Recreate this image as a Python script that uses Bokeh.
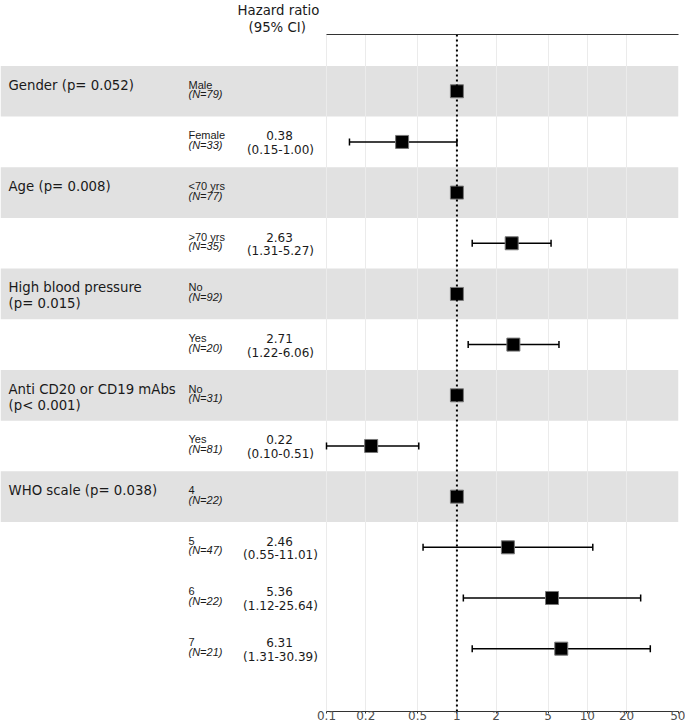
import numpy as np
from bokeh.plotting import figure
from bokeh.models import (ColumnDataSource, Range1d, FixedTicker, LogAxis, Span,
                          Whisker, TeeHead, LabelSet, Title, CustomJSTickFormatter)
from bokeh.core.properties import value
from bokeh.embed import file_html
from bokeh.resources import INLINE

# ---------------- data ----------------
group_labels = ["Gender (p= 0.052)", "Age (p= 0.008)", "High blood pressure\n(p= 0.015)",
                "Anti CD20 or CD19 mAbs\n(p< 0.001)", "WHO scale (p= 0.038)"]
group_sizes = [2, 2, 2, 2, 4]
levels = ["Male", "Female", "<70 yrs", ">70 yrs", "No", "Yes", "No", "Yes", "4", "5", "6", "7"]
n_obs = [79, 33, 77, 35, 92, 20, 31, 81, 22, 47, 22, 21]
hazard = [1, 0.38, 1, 2.63, 1, 2.71, 1, 0.22, 1, 2.46, 5.36, 6.31]
ci_low = [None, 0.15, None, 1.31, None, 1.22, None, 0.10, None, 0.55, 1.12, 1.31]
ci_high = [None, 1.00, None, 5.27, None, 6.06, None, 0.51, None, 11.01, 25.64, 30.39]
x_ticks = [0.1, 0.2, 0.5, 1, 2, 5, 10, 20, 50]
header_lines = ["Hazard ratio", "(95% CI)"]

# ---------------- layout ----------------
W, H = 685, 724
B_TOP, B_BOT, B_RIGHT = 33, 13, 7
FRAME_W = W - B_RIGHT
FRAME_H = H - B_TOP - B_BOT
X0_PX = 326                     # screen x of the first tick inside the frame
decade_px = (FRAME_W - X0_PX) / np.log10(x_ticks[-1] / x_ticks[0])
x_start = x_ticks[0] * 10 ** (-X0_PX / decade_px)
x_end = x_ticks[-1]
Y_TOP, Y_BOT = -1.12, 12.24
ppu = FRAME_H / (Y_BOT - Y_TOP)

SANS = "DejaVu Sans"
TXT = "#1a1a1a"

p = figure(width=W, height=H, x_axis_type="log", y_axis_location=None, title=None,
           x_range=Range1d(x_start, x_end), y_range=Range1d(Y_BOT, Y_TOP),
           output_backend="svg", toolbar_location=None,
           min_border_left=0, min_border_right=B_RIGHT,
           min_border_top=B_TOP, min_border_bottom=B_BOT)
p.outline_line_color = None
p.background_fill_color = "white"
p.border_fill_color = "white"
p.ygrid.visible = False

rows = list(range(len(levels)))
group_start = [int(v) for v in np.cumsum([0] + group_sizes[:-1])]

# shaded bands (first row of every group)
band_src = ColumnDataSource(dict(y=group_start))
p.hbar(y="y", left=x_start, right=x_end, height=1, source=band_src,
       fill_color="#e1e1e1", line_color=None, level="image")

# grid
p.xgrid.ticker = FixedTicker(ticks=x_ticks)
p.xgrid.grid_line_color = "#ebebeb"
p.xgrid.grid_line_width = 1

# bottom axis
ax = p.xaxis[0]
ax.ticker = FixedTicker(ticks=x_ticks)
ax.bounds = (x_ticks[0], x_ticks[-1])
ax.formatter = CustomJSTickFormatter(code="return String(tick);")
ax.minor_tick_line_color = None
ax.major_tick_in = 0
ax.major_tick_out = 2
ax.major_label_standoff = -3
ax.major_tick_line_color = "#333333"
ax.axis_line_color = "#333333"
ax.axis_line_width = 1.2
ax.major_label_text_font = SANS
ax.major_label_text_font_size = "12px"
ax.major_label_text_color = "#4d4d4d"

# top rule
top = LogAxis(ticker=FixedTicker(ticks=[]), bounds=(x_ticks[0], x_ticks[-1]),
              major_tick_line_color=None, minor_tick_line_color=None,
              major_label_text_font_size="0px", axis_line_color="#333333",
              axis_line_width=1.2)
p.add_layout(top, "above")

# header (column title of the HR column)
for line, off_x in zip(header_lines[::-1], [248, 237]):
    p.add_layout(Title(text=line, align="left", offset=off_x, standoff=0,
                       text_font=SANS, text_font_size="13.3px", text_font_style="normal",
                       text_color=TXT), "above")

# reference line at HR = 1
p.add_layout(Span(location=1, dimension="height", line_color="black",
                  line_dash="2 3", line_width=2))

# confidence intervals
ci_rows = [r for r in rows if ci_low[r] is not None]
ci_src = ColumnDataSource(dict(y=ci_rows, lo=[ci_low[r] for r in ci_rows],
                               hi=[ci_high[r] for r in ci_rows]))
p.add_layout(Whisker(source=ci_src, base="y", lower="lo", upper="hi", dimension="width",
                     line_color="black", line_width=1.5,
                     lower_head=TeeHead(size=7, line_color="black", line_width=1.5),
                     upper_head=TeeHead(size=7, line_color="black", line_width=1.5)))

# point estimates
pt_src = ColumnDataSource(dict(y=rows, hr=hazard))
p.scatter(x="hr", y="y", source=pt_src, marker="square", size=13,
          fill_color="black", line_color="#777777", line_width=1)

# ---------------- table text ----------------
def off(px):
    return px / ppu

g_x, g_y, g_t = [], [], []
for lab, r0 in zip(group_labels, group_start):
    for j, line in enumerate(lab.split("\n")):
        g_x.append(8)
        g_y.append(r0 + off(-1.5 + 16 * j))
        g_t.append(line)
p.add_layout(LabelSet(x="x", y="y", text="t", x_units="screen",
                      source=ColumnDataSource(dict(x=g_x, y=g_y, t=g_t)),
                      text_font=value(SANS), text_font_size="13.3px",
                      text_color=TXT, text_baseline="alphabetic", text_align="left"))

lv_src = ColumnDataSource(dict(x=[188] * len(rows), y=[r + off(-2.5) for r in rows], t=levels))
p.add_layout(LabelSet(x="x", y="y", text="t", x_units="screen", source=lv_src,
                      text_font=value("Liberation Sans"), text_font_size="11px",
                      text_color=TXT, text_baseline="alphabetic", text_align="left"))
n_src = ColumnDataSource(dict(x=[188] * len(rows), y=[r + off(7) for r in rows],
                              t=["(N=%d)" % n for n in n_obs]))
p.add_layout(LabelSet(x="x", y="y", text="t", x_units="screen", source=n_src,
                      text_font=value("Liberation Sans"), text_font_size="11px",
                      text_font_style="italic",
                      text_color=TXT, text_baseline="alphabetic", text_align="left"))

h1_src = ColumnDataSource(dict(x=[279] * len(ci_rows), y=[r + off(-1.5) for r in ci_rows],
                               t=["%.2f" % hazard[r] for r in ci_rows]))
h2_src = ColumnDataSource(dict(x=[280] * len(ci_rows), y=[r + off(12) for r in ci_rows],
                               t=["(%.2f-%.2f)" % (ci_low[r], ci_high[r]) for r in ci_rows]))
for s in (h1_src, h2_src):
    p.add_layout(LabelSet(x="x", y="y", text="t", x_units="screen", source=s,
                          text_font=value(SANS), text_font_size="12px",
                          text_color=TXT, text_baseline="alphabetic", text_align="center"))

open("out.html", "w").write(file_html(p, INLINE))
